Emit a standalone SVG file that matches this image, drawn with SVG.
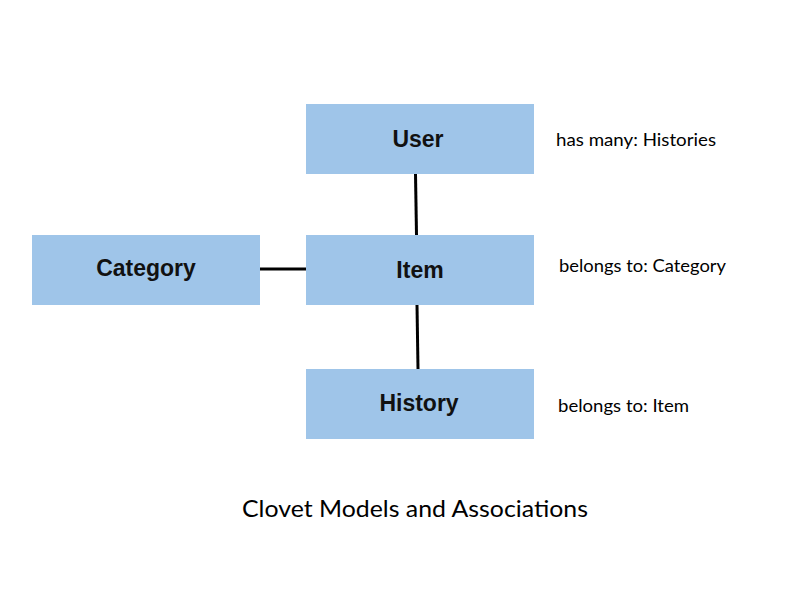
<svg xmlns="http://www.w3.org/2000/svg" width="800" height="600" viewBox="0 0 800 600">
<style>
.box{fill:#9fc5e9}
.lbl{font-family:"Liberation Sans",Arial,sans-serif;font-size:23px;font-weight:bold;fill:#111;text-anchor:middle}
.note{font-family:Lato,"Noto Sans",sans-serif;font-size:18px;fill:#000}
.title{font-family:Lato,"Noto Sans",sans-serif;font-size:24px;fill:#000}
.conn line{stroke:#000;stroke-width:3}
</style>
<rect width="800" height="600" fill="#fff"/>
<g class="conn" id="connectors">
<line x1="415.5" y1="174" x2="416.5" y2="235"/>
<line x1="417" y1="305" x2="418" y2="369"/>
<line x1="259" y1="269" x2="306" y2="269"/>
</g>
<g id="user"><rect class="box" x="306" y="104" width="228" height="70"/><text class="lbl" x="418" y="147">User</text></g>
<g id="item"><rect class="box" x="306" y="235" width="228" height="70"/><text class="lbl" x="420" y="278">Item</text></g>
<g id="category"><rect class="box" x="32" y="235" width="228" height="70"/><text class="lbl" x="146" y="276">Category</text></g>
<g id="history"><rect class="box" x="306" y="369" width="228" height="70"/><text class="lbl" x="419" y="411">History</text></g>
<text class="note" x="556" y="146" textLength="160" lengthAdjust="spacingAndGlyphs">has many: Histories</text>
<text class="note" x="559" y="272" textLength="167" lengthAdjust="spacingAndGlyphs">belongs to: Category</text>
<text class="note" x="558" y="412" textLength="131" lengthAdjust="spacingAndGlyphs">belongs to: Item</text>
<text class="title" x="242" y="517" textLength="346" lengthAdjust="spacingAndGlyphs">Clovet Models and Associations</text>
</svg>
